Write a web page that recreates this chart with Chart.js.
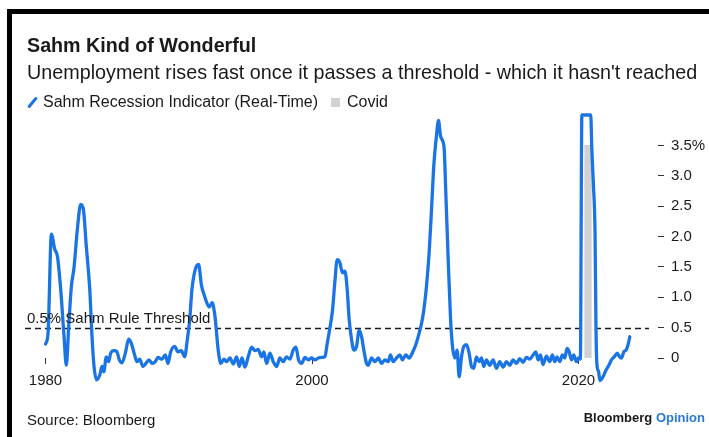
<!DOCTYPE html>
<html>
<head>
<meta charset="utf-8">
<script src="https://cdn.jsdelivr.net/npm/chart.js@4/dist/chart.umd.min.js"></script>
<style>
  html, body { margin: 0; padding: 0; background: #fff; }
  #wrap { position: relative; width: 709px; height: 437px; overflow: hidden;
          font-family: "Liberation Sans", Arial, sans-serif; color: #1a1a1a; }
  #frame { position: absolute; left: 7px; top: 9px; width: 760px; height: 480px;
           border-left: 5px solid #000; border-top: 5px solid #000; }
  #c { position: absolute; left: 0; top: 0; }
  .t { position: absolute; white-space: nowrap; }
  #title { left: 27px; top: 34px; font-size: 19.7px; font-weight: bold; }
  #subtitle { left: 27px; top: 61px; font-size: 19.75px; }
  #legend { left: 27px; top: 93px; font-size: 16px; display: flex; align-items: center; height: 18px; }
  #legend .slash { width: 3px; height: 13px; background: #1b74e4; transform: rotate(40deg); margin: 0 9px 0 4px; border-radius: 1px; }
  #legend .box { width: 9px; height: 9px; background: #d2d2d2; margin: 0 7px 0 13px; }
  #source { left: 27px; top: 411px; font-size: 15px; }
  #brand { right: 4px; top: 410px; font-size: 13px; font-weight: bold; }
  #brand span { color: #2a7ad4; }
</style>
</head>
<body>
<div id="wrap">
  <div id="frame"></div>
  <canvas id="c" width="709" height="437"></canvas>
  <div class="t" id="title">Sahm Kind of Wonderful</div>
  <div class="t" id="subtitle">Unemployment rises fast once it passes a threshold - which it hasn't reached</div>
  <div class="t" id="legend"><div class="slash"></div>Sahm Recession Indicator (Real-Time)<div class="box"></div>Covid</div>
  <div class="t" id="source">Source: Bloomberg</div>
  <div class="t" id="brand">Bloomberg <span>Opinion</span></div>
</div>
<script>
// Sahm Recession Indicator (real-time), percentage points, by decimal year
const years = [
  1980.00, 1980.19, 1980.44, 1980.69, 1980.89, 1981.14, 1981.39, 1981.56, 1981.74, 1981.94,
  1982.14, 1982.39, 1982.64, 1982.84, 1983.06, 1983.32, 1983.49, 1983.64, 1983.84, 1984.07,
  1984.24, 1984.37, 1984.56, 1984.74, 1984.89, 1985.14, 1985.34, 1985.54, 1985.74, 1985.99,
  1986.24, 1986.44, 1986.69, 1986.86, 1987.07, 1987.31, 1987.56, 1987.76, 1988.01, 1988.24,
  1988.44, 1988.74, 1988.99, 1989.19, 1989.39, 1989.69, 1989.94,
  1990.19, 1990.44, 1990.64, 1990.82, 1990.99, 1991.24, 1991.49, 1991.70, 1991.92, 1992.12,
  1992.29, 1992.50, 1992.71, 1992.96, 1993.16, 1993.39, 1993.59, 1993.84, 1994.09, 1994.34,
  1994.54, 1994.74, 1994.97, 1995.21, 1995.47, 1995.72, 1995.96, 1996.22, 1996.39, 1996.59,
  1996.84, 1997.09, 1997.34, 1997.59, 1997.84, 1998.09, 1998.34, 1998.59, 1998.79, 1998.99,
  1999.22, 1999.47, 1999.72, 1999.97,
  2000.22, 2000.47, 2000.72, 2000.97, 2001.14, 2001.34, 2001.54, 2001.71, 2001.89, 2002.09,
  2002.29, 2002.47, 2002.64, 2002.79, 2002.97, 2003.14, 2003.34, 2003.54, 2003.72, 2003.89,
  2004.09, 2004.21, 2004.47, 2004.72, 2004.97, 2005.22, 2005.47, 2005.72, 2005.89, 2006.09,
  2006.34, 2006.59, 2006.79, 2007.04, 2007.29, 2007.54, 2007.79, 2008.04, 2008.22, 2008.39,
  2008.59, 2008.79, 2008.97, 2009.14, 2009.34, 2009.49, 2009.64, 2009.79, 2009.92,
  2010.04, 2010.22, 2010.39, 2010.54, 2010.72, 2010.89, 2011.04, 2011.22, 2011.39, 2011.59,
  2011.79, 2011.97, 2012.14, 2012.34, 2012.54, 2012.72, 2012.89, 2013.09, 2013.34, 2013.59,
  2013.84, 2014.09, 2014.34, 2014.59, 2014.84, 2015.09, 2015.34, 2015.59, 2015.84, 2016.09,
  2016.34, 2016.59, 2016.79, 2016.97, 2017.14, 2017.34, 2017.59, 2017.84, 2018.04, 2018.22,
  2018.39, 2018.59, 2018.79, 2018.97, 2019.14, 2019.29, 2019.47, 2019.64, 2019.84, 2019.99,
  2020.14, 2020.25, 2020.42, 2020.58, 2020.75, 2020.92, 2020.99, 2021.11, 2021.24, 2021.31,
  2021.38, 2021.50, 2021.61, 2021.86, 2022.06, 2022.30, 2022.47, 2022.72, 2022.90, 2023.05,
  2023.22, 2023.40, 2023.60, 2023.72, 2023.85
];
const sahm = [
  0.23, 0.41, 2.04, 1.79, 1.68, 1.13, 0.35, -0.12, 0.52, 1.18,
  1.49, 2.12, 2.53, 2.45, 1.84, 1.13, 0.35, -0.14, -0.36, -0.28,
  -0.14, -0.23, 0.02, -0.06, 0.08, 0.12, 0.11, -0.03, -0.08, 0.08,
  0.31, 0.24, 0.05, -0.06, -0.02, -0.14, -0.08, -0.03, -0.09, -0.06,
  0.01, -0.02, 0.05, -0.09, 0.10, 0.19, 0.10,
  0.12, 0.02, 0.30, 0.63, 1.13, 1.46, 1.54, 1.20, 1.03, 0.90,
  0.84, 0.91, 0.70, 0.13, -0.09, -0.02, -0.06, 0.00, -0.10, 0.02,
  -0.14, 0.00, -0.15, 0.02, 0.18, 0.12, 0.14, 0.02, 0.10, -0.09,
  0.08, -0.06, -0.14, 0.00, -0.06, 0.02, -0.02, 0.13, 0.18, -0.03,
  -0.09, 0.01, -0.03, 0.00,
  -0.03, 0.00, 0.01, 0.02, 0.24, 0.49, 0.79, 1.24, 1.62, 1.57,
  1.40, 1.43, 1.13, 0.63, 0.30, 0.13, 0.19, 0.46, 0.35, 0.13,
  -0.09, -0.12, 0.00, -0.06, 0.00, -0.09, -0.03, -0.06, 0.05, -0.06,
  0.00, 0.05, -0.03, 0.05, 0.00, 0.09, 0.22, 0.41, 0.57, 0.79,
  1.18, 1.73, 2.45, 3.17, 3.66, 3.91, 3.66, 3.58, 3.44,
  2.73, 1.62, 0.68, 0.19, 0.00, 0.13, -0.31, 0.02, 0.19, 0.22,
  0.08, -0.14, -0.17, 0.02, -0.06, 0.00, -0.14, -0.03, -0.12, -0.03,
  -0.17, -0.06, -0.15, -0.06, -0.12, -0.03, -0.09, -0.01, -0.07, 0.01,
  -0.02, 0.05, 0.10, -0.03, 0.05, -0.11, 0.03, -0.06, 0.05, -0.06,
  0.02, -0.06, 0.05, 0.00, 0.16, 0.11, -0.03, 0.05, -0.06, 0.00,
  -0.02, 4.00, 4.00, 4.00, 4.00, 4.00, 3.50, 2.88, 2.07, 0.52,
  -0.10, -0.22, -0.37, -0.30, -0.20, -0.11, -0.03, 0.03, 0.08, 0.03,
  0.00, 0.10, 0.14, 0.22, 0.35
];

// Covid shading, monthly columns
const covidMonths = [2020.50, 2020.58, 2020.67, 2020.75, 2020.83, 2020.92];
const covidLevel  = [3.5, 3.5, 3.5, 3.5, 3.5, 3.5];

// Sahm rule trigger level
const threshold = 0.5;
const thresholdLabel = '0.5% Sahm Rule Threshold';

// Axis ticks
const xTicks = [1980, 2000, 2020];
const xTickLabels = ['1980', '2000', '2020'];
const yTicks = [0, 0.5, 1, 1.5, 2, 2.5, 3, 3.5];
const yTickLabels = ['0', '0.5', '1.0', '1.5', '2.0', '2.5', '3.0', '3.5%'];

const FONT = '"Liberation Sans", Arial, sans-serif';
const INK = '#1a1a1a';
const BLUE = '#1b74e4';

Chart.defaults.font.family = FONT;
Chart.defaults.color = INK;

const thresholdPlugin = {
  id: 'thresholdLine',
  beforeDatasetsDraw(chart) {
    const { ctx, chartArea, scales } = chart;
    const py = Math.round(scales.y.getPixelForValue(threshold)) + 0.5;
    ctx.save();
    ctx.strokeStyle = INK;
    ctx.lineWidth = 1.5;
    ctx.setLineDash([6, 4]);
    ctx.beginPath();
    ctx.moveTo(chartArea.left, py);
    ctx.lineTo(chartArea.right, py);
    ctx.stroke();
    ctx.restore();
  },
  afterDatasetsDraw(chart) {
    const { ctx, chartArea, scales } = chart;
    const py = scales.y.getPixelForValue(threshold);
    ctx.save();
    ctx.fillStyle = INK;
    ctx.font = '15px ' + FONT;
    ctx.textBaseline = 'alphabetic';
    ctx.fillText(thresholdLabel, chartArea.left + 2, py - 5);
    ctx.restore();
  }
};

new Chart(document.getElementById('c'), {
  type: 'line',
  data: {
    datasets: [
      {
        type: 'line',
        label: 'Sahm Recession Indicator (Real-Time)',
        data: years.map((x, i) => ({ x: x, y: sahm[i] })),
        borderColor: BLUE,
        borderWidth: 3.3,
        pointRadius: 0,
        cubicInterpolationMode: 'monotone',
        borderJoinStyle: 'round',
        borderCapStyle: 'round',
        // below-zero readings run under the axis line
        clip: { left: 2, top: 2, right: 2, bottom: false },
        order: 1
      },
      {
        type: 'bar',
        label: 'Covid',
        data: covidMonths.map((x, i) => ({ x: x, y: covidLevel[i] })),
        backgroundColor: '#d2d2d2',
        borderWidth: 0,
        barPercentage: 1,
        categoryPercentage: 1,
        grouped: false,
        order: 2
      }
    ]
  },
  options: {
    responsive: false,
    animation: false,
    layout: { padding: { left: 25, right: 0, top: 115, bottom: 39 } },
    plugins: { legend: { display: false }, tooltip: { enabled: false } },
    scales: {
      x: {
        type: 'linear',
        position: 'bottom',
        min: 1978.46,
        max: 2025.29,
        offset: false,
        afterFit(scale) { scale.height = 40; },
        afterBuildTicks(scale) { scale.ticks = xTicks.map(v => ({ value: v })); },
        border: { display: false },
        grid: { display: true, offset: false, drawOnChartArea: false, drawTicks: true, tickLength: 6, tickColor: '#333', tickWidth: 1 },
        ticks: {
          autoSkip: false, maxRotation: 0, padding: 8,
          font: { size: 15 }, color: INK,
          callback: (v, i) => xTickLabels[i]
        }
      },
      y: {
        type: 'linear',
        position: 'right',
        min: 0,
        max: 4.0,
        afterFit(scale) { scale.width = 60; },
        afterBuildTicks(scale) { scale.ticks = yTicks.map(v => ({ value: v })); },
        border: { display: false },
        grid: {
          display: true, drawOnChartArea: false, drawTicks: true,
          tickLength: 15, tickColor: '#333', tickWidth: 1,
          tickBorderDash: [6, 9], tickBorderDashOffset: 6
        },
        ticks: {
          autoSkip: false, padding: 7,
          font: { size: 15 }, color: INK,
          callback: (v, i) => yTickLabels[i]
        }
      }
    }
  },
  plugins: [thresholdPlugin]
});
</script>
</body>
</html>
